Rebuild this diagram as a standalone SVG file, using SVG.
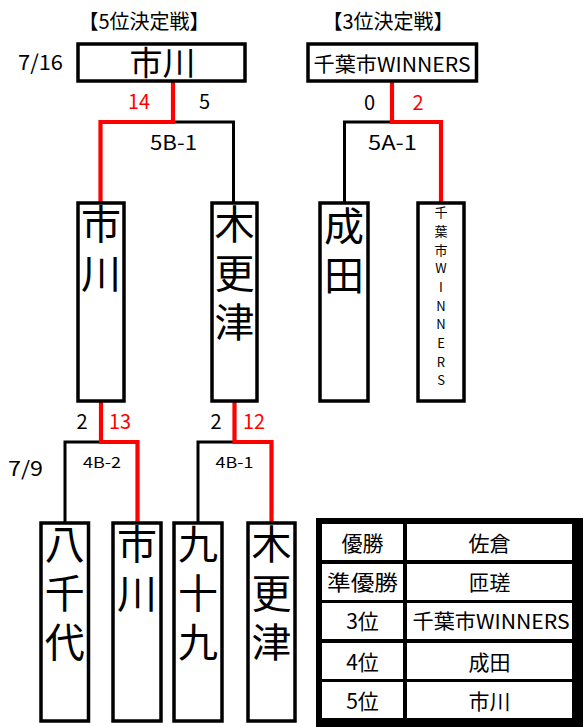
<svg xmlns="http://www.w3.org/2000/svg" width="585" height="727" viewBox="0 0 585 727">
<style>
text{font-family:"Noto Sans CJK JP","Noto Sans",sans-serif;fill:#000;text-anchor:middle}
.box{fill:#fff;stroke:#000;stroke-width:3.5}
.blk{fill:none;stroke:#000;stroke-width:3}
.red{fill:none;stroke:#f00;stroke-width:4.2}
.vt{font-size:40px}
.sm{font-size:13px}
.sc{font-size:20px}
.r{fill:#f00}
.tb{font-size:21px}
.cell{fill:#fff}
</style>
<rect width="585" height="727" fill="#fff"/>
<text x="144" y="29" font-size="20">【5位決定戦】</text>
<text x="388" y="29" font-size="20">【3位決定戦】</text>
<text x="40.5" y="70" font-size="21" textLength="45" lengthAdjust="spacingAndGlyphs">7/16</text>
<text x="25.5" y="476" font-size="20" textLength="35" lengthAdjust="spacingAndGlyphs">7/9</text>
<g id="connectors">
<path class="blk" d="M173,122 H233.5 V203"/>
<path class="red" d="M173,82 V122 H100.5 V203"/>
<path class="blk" d="M392,122 H344.5 V203"/>
<path class="red" d="M392,82 V122 H441 V203"/>
<path class="blk" d="M101,442 H65 V523"/>
<path class="red" d="M101,402 V442 H137.5 V523"/>
<path class="blk" d="M234.5,442 H198 V523"/>
<path class="red" d="M234.5,402 V442 H271.5 V523"/>
</g>
<g id="scores">
<text class="sc r" x="139" y="109" textLength="22" lengthAdjust="spacingAndGlyphs">14</text>
<text class="sc" x="204.5" y="109">5</text>
<text class="sc" x="173.5" y="150" textLength="47" lengthAdjust="spacingAndGlyphs">5B-1</text>
<text class="sc" x="369.5" y="110">0</text>
<text class="sc r" x="418" y="110">2</text>
<text class="sc" x="392.5" y="150" textLength="49" lengthAdjust="spacingAndGlyphs">5A-1</text>
<text class="sc" x="82" y="429">2</text>
<text class="sc r" x="120" y="429" textLength="22" lengthAdjust="spacingAndGlyphs">13</text>
<text x="102" y="468" font-size="15" textLength="38" lengthAdjust="spacingAndGlyphs">4B-2</text>
<text class="sc" x="216" y="429">2</text>
<text class="sc r" x="254" y="429" textLength="22" lengthAdjust="spacingAndGlyphs">12</text>
<text x="234.5" y="468" font-size="15" textLength="38" lengthAdjust="spacingAndGlyphs">4B-1</text>
</g>
<g id="final5">
<rect class="box" x="78" y="44" width="167" height="37"/>
<text x="162.5" y="75" font-size="33">市川</text>
</g>
<g id="final3">
<rect class="box" x="308" y="44" width="168.5" height="37"/>
<text x="392" y="72" font-size="20" textLength="157" lengthAdjust="spacingAndGlyphs">千葉市WINNERS</text>
</g>
<g id="sf-ichikawa">
<rect class="box" x="78" y="203" width="46" height="198"/>
<text class="vt"><tspan x="101" y="239">市</tspan><tspan x="101" y="288">川</tspan></text>
</g>
<g id="sf-kisarazu">
<rect class="box" x="212" y="203" width="45" height="198"/>
<text class="vt"><tspan x="234.5" y="239">木</tspan><tspan x="234.5" y="288">更</tspan><tspan x="234.5" y="337">津</tspan></text>
</g>
<g id="sf-narita">
<rect class="box" x="320" y="203" width="48" height="198"/>
<text class="vt"><tspan x="344" y="241">成</tspan><tspan x="344" y="290">田</tspan></text>
</g>
<g id="sf-winners">
<rect class="box" x="418" y="203" width="46" height="198"/>
<text class="sm"><tspan x="441" y="217">千</tspan><tspan x="441" y="236">葉</tspan><tspan x="441" y="254.5">市</tspan><tspan x="441" y="273">W</tspan><tspan x="441" y="292">I</tspan><tspan x="441" y="310.5">N</tspan><tspan x="441" y="329">N</tspan><tspan x="441" y="348">E</tspan><tspan x="441" y="366.5">R</tspan><tspan x="441" y="385">S</tspan></text>
</g>
<g id="r1-yachiyo">
<rect class="box" x="41" y="523" width="47.5" height="198"/>
<text class="vt"><tspan x="64.7" y="559">八</tspan><tspan x="64.7" y="608">千</tspan><tspan x="64.7" y="657">代</tspan></text>
</g>
<g id="r1-ichikawa">
<rect class="box" x="113" y="523" width="48" height="198"/>
<text class="vt"><tspan x="137" y="559">市</tspan><tspan x="137" y="608">川</tspan></text>
</g>
<g id="r1-kujukuri">
<rect class="box" x="174" y="523" width="48" height="198"/>
<text class="vt"><tspan x="198" y="559">九</tspan><tspan x="198" y="608">十</tspan><tspan x="198" y="657">九</tspan></text>
</g>
<g id="r1-kisarazu">
<rect class="box" x="248" y="523" width="47" height="198"/>
<text class="vt"><tspan x="271.5" y="559">木</tspan><tspan x="271.5" y="608">更</tspan><tspan x="271.5" y="657">津</tspan></text>
</g>
<g id="results">
<rect x="316" y="518" width="267" height="209" fill="#000"/>
<rect class="cell" x="322" y="524" width="81" height="36"/>
<rect class="cell" x="407" y="524" width="165" height="36"/>
<rect class="cell" x="322" y="564" width="81" height="36"/>
<rect class="cell" x="407" y="564" width="165" height="36"/>
<rect class="cell" x="322" y="603" width="81" height="36"/>
<rect class="cell" x="407" y="603" width="165" height="36"/>
<rect class="cell" x="322" y="643" width="81" height="36"/>
<rect class="cell" x="407" y="643" width="165" height="36"/>
<rect class="cell" x="322" y="682" width="81" height="36"/>
<rect class="cell" x="407" y="682" width="165" height="36"/>
<text class="tb" x="362.5" y="551">優勝</text>
<text class="tb" x="489.5" y="551">佐倉</text>
<text class="tb" x="362.5" y="590" textLength="71" lengthAdjust="spacingAndGlyphs">準優勝</text>
<text class="tb" x="489.5" y="590">匝瑳</text>
<text class="tb" x="362.5" y="629">3位</text>
<text x="491" y="629" font-size="20" textLength="157" lengthAdjust="spacingAndGlyphs">千葉市WINNERS</text>
<text class="tb" x="362.5" y="670">4位</text>
<text class="tb" x="489.5" y="670">成田</text>
<text class="tb" x="362.5" y="709">5位</text>
<text class="tb" x="489.5" y="709">市川</text>
</g>
</svg>
